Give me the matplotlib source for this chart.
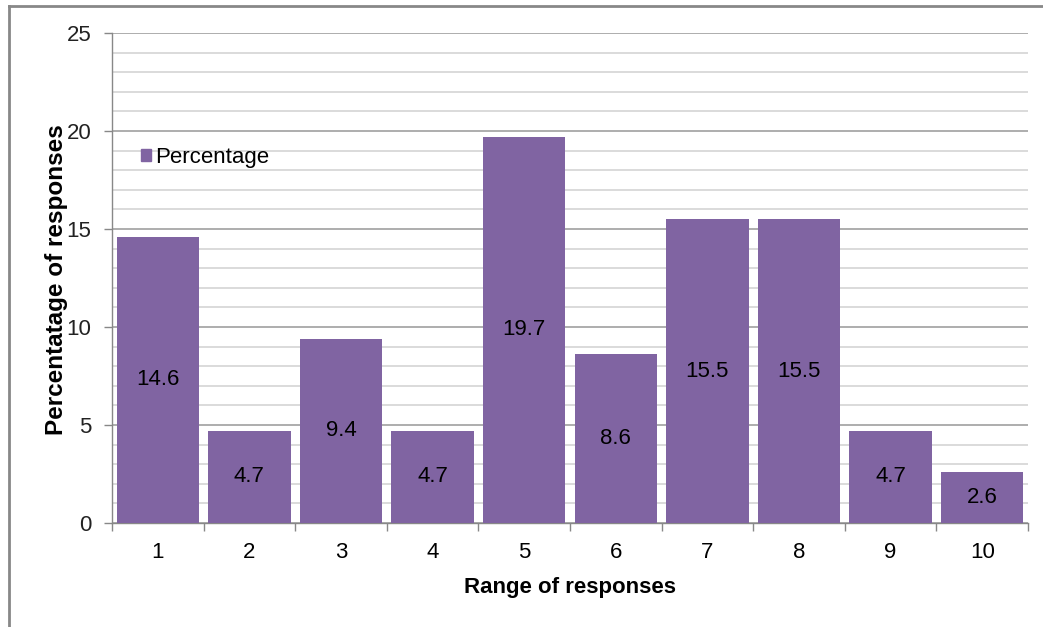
import matplotlib
matplotlib.use("Agg")
import matplotlib.pyplot as plt
from matplotlib.lines import Line2D
from matplotlib.patches import Patch
import numpy as np

plt.rcParams['font.family'] = ['Liberation Sans', 'DejaVu Sans']

categories = ['1', '2', '3', '4', '5', '6', '7', '8', '9', '10']
percentage = [14.6, 4.7, 9.4, 4.7, 19.7, 8.6, 15.5, 15.5, 4.7, 2.6]

bar_color = '#8064A2'
fs = 16
W, H = 1043, 627

fig = plt.figure(figsize=(W / 100, H / 100), dpi=100)
ax = fig.add_axes([112 / W, 1 - 523 / H, (1028 - 112) / W, (523 - 33) / H])

x = np.arange(len(categories))
bars = ax.bar(x, percentage, width=0.9, color=bar_color, zorder=3)

# value labels in the middle of each bar
for rect, v in zip(bars, percentage):
    ax.text(rect.get_x() + rect.get_width() / 2, v / 2, f'{v}',
            ha='center', va='center', fontsize=fs, color='black', zorder=4)

ax.set_xlim(-0.5, len(categories) - 0.5)
ax.set_ylim(0, 25)
ax.set_yticks(np.arange(0, 26, 5))
ax.set_yticks(np.arange(0, 26, 1), minor=True)

# gridlines: darker every 5, lighter every 1
ax.grid(axis='y', which='major', color='#A0A0A0', linewidth=1.2, zorder=0)
ax.grid(axis='y', which='minor', color='#D4D4D4', linewidth=1.2, zorder=0)

# category ticks sit between the bars
ax.set_xticks(x)
ax.set_xticklabels(categories)
ax.set_xticks(np.arange(-0.5, len(categories), 1), minor=True)
ax.tick_params(axis='x', which='major', length=0, labelsize=fs, pad=14)
ax.tick_params(axis='x', which='minor', length=6, color='#888888', width=1)
ax.tick_params(axis='y', which='major', length=6, color='#888888', width=1,
               labelsize=fs, pad=9, labelcolor='#222222')
ax.tick_params(axis='y', which='minor', length=0)

for side in ['top', 'right']:
    ax.spines[side].set_visible(False)
for side in ['left', 'bottom']:
    ax.spines[side].set_color('#888888')
    ax.spines[side].set_linewidth(1)

ax.set_xlabel('Range of responses', fontsize=fs, fontweight='bold', va='center')
ax.set_ylabel('Percentatage of responses', fontsize=17.5, fontweight='bold', va='center')
ax.xaxis.set_label_coords(0.5, (523 - 588) / 490)
ax.yaxis.set_label_coords((57 - 112) / 916, (523 - 280) / 490)

ax.legend(handles=[Patch(color=bar_color, label='Percentage')],
          loc='center left', bbox_to_anchor=((141 - 112) / 916, (523 - 157) / 490),
          frameon=False, fontsize=fs, borderpad=0, borderaxespad=0,
          handlelength=0.45, handleheight=0.45, handletextpad=0.2)

# chart area border
fig.add_artist(Line2D([9 / W, 9 / W], [0, 1 - 6 / H], transform=fig.transFigure,
                      color='#888888', linewidth=2))
fig.add_artist(Line2D([9 / W, 1], [1 - 6 / H, 1 - 6 / H], transform=fig.transFigure,
                      color='#888888', linewidth=2))

fig.savefig('out.png', dpi=100)
